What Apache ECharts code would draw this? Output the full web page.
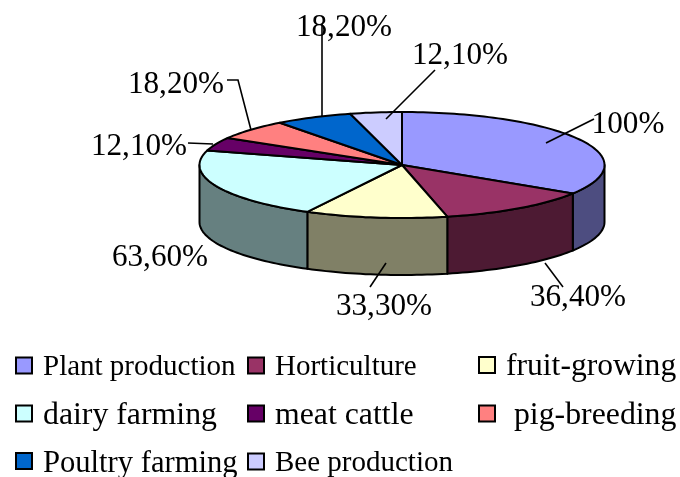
<!DOCTYPE html>
<html><head><meta charset="utf-8">
<style>html,body{margin:0;padding:0;background:#fff}#c{width:680px;height:477px}</style>
<script src="https://cdn.jsdelivr.net/npm/echarts@6/dist/echarts.min.js"></script>
</head><body><div id="c"></div>
<script>
const categories = ['Plant production','Horticulture','fruit-growing','dairy farming','meat cattle',' pig-breeding','Poultry farming','Bee production'];
const values = [100,36.4,33.3,63.6,12.1,18.2,18.2,12.1];
const valueLabels = ['100%','36,40%','33,30%','63,60%','12,10%','18,20%','18,20%','12,10%'];
const colors = ['#9999FF','#993366','#FFFFCC','#CCFFFF','#660066','#FF8080','#0066CC','#CCCCFF'];

// layout, separate from the data
const CX = 402, CY = 165, RX = 202.5, RY = 53, DEPTH = 57;
const FONT = 'Liberation Serif';
const labelPos = [[628,125],[578,298],[384,307],[160,258],[139,147],[176,85],[344,28],[460,56]];
const leaders = [
  [[546,143],[594,119]],
  [[545,263],[563,287]],
  [[386,263],[370,287]],
  null,
  [[188,143],[213,144]],
  [[227,80],[238,80],[251,130]],
  [[322,24],[322,117]],
  [[386,119],[435,70]]
];
const legendLefts = [15,247,478,15,247,478,15,247];
const legendTops = [349,349,347,395,395,395,443,445];
const legendPads = [4,4,4,5,5,5,5,4];
const legendFontSizes = [29,29,31.6,31.8,31.8,31.8,30.6,29];

const total = values.reduce((a,b)=>a+b,0);
const pt = (deg,dy=0)=>{const r=deg*Math.PI/180;return [CX+RX*Math.sin(r),CY-RY*Math.cos(r)+dy];};
const arc = (a,b,dy=0)=>{const n=Math.max(2,Math.ceil((b-a)/1.5)),o=[];for(let i=0;i<=n;i++)o.push(pt(a+(b-a)*i/n,dy));return o;};
const darker = h=>'#'+[1,3,5].map(i=>Math.round(parseInt(h.substr(i,2),16)/2).toString(16).padStart(2,'0')).join('');
const line = {stroke:'#000',lineWidth:2,lineJoin:'round'};

function sliceRenderer(i){
  return function(){
    const start = values.slice(0,i).reduce((a,b)=>a+b,0)/total*360;
    const end = start + values[i]/total*360;
    const children = [];
    const a = Math.max(start,90), b = Math.min(end,270);
    if (a < b) {
      children.push({type:'polygon',shape:{points:arc(a,b).concat(arc(a,b,DEPTH).reverse())},
        style:Object.assign({fill:darker(colors[i])},line)});
    }
    children.push({type:'polygon',shape:{points:[[CX,CY]].concat(arc(start,end))},
      style:Object.assign({fill:colors[i]},line)});
    if (leaders[i]) children.push({type:'polyline',shape:{points:leaders[i]},
      style:{stroke:'#000',lineWidth:1.6,fill:null}});
    children.push({type:'text',x:labelPos[i][0],y:labelPos[i][1],
      style:{text:valueLabels[i],fontFamily:FONT,fontSize:31.2,fill:'#000',align:'center',verticalAlign:'middle'}});
    return {type:'group',children};
  };
}

const chart = echarts.init(document.getElementById('c'),null,{renderer:'canvas'});
chart.setOption({
  animation:false,
  backgroundColor:'#fff',
  legend:categories.map((n,i)=>({
    data:[n],orient:'horizontal',
    left:legendLefts[i],top:legendTops[i],
    padding:0,selectedMode:false,itemWidth:16,itemHeight:16,icon:'rect',
    itemStyle:{borderColor:'#000',borderWidth:2},
    formatter:'{t|{name}}',
    textStyle:{color:'#000',rich:{t:{fontFamily:FONT,fontSize:legendFontSizes[i],lineHeight:34,color:'#000',padding:[legendPads[i],0,0,6]}}}
  })),
  series:categories.map((n,i)=>({
    type:'custom',name:n,coordinateSystem:'none',silent:true,
    itemStyle:{color:colors[i]},
    data:[[values[i]]],
    renderItem:sliceRenderer(i)
  }))
});
</script></body></html>
